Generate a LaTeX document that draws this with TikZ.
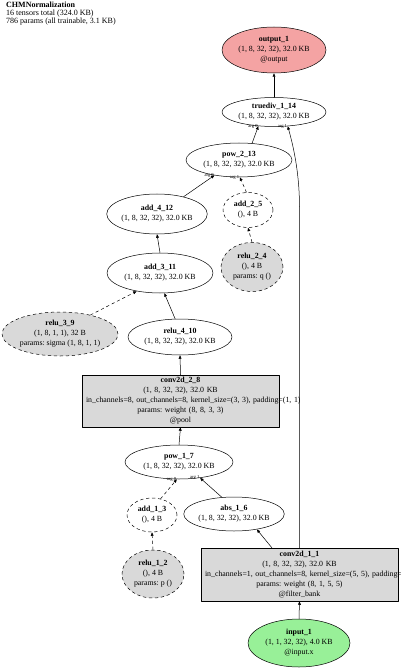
\documentclass[tikz,border=0pt]{standalone}
\usepackage{fontspec}
\setmainfont{Liberation Serif}
\usetikzlibrary{arrows.meta, shapes.geometric, calc}

\definecolor{outfill}{HTML}{F4A3A3}
\definecolor{infill}{HTML}{98F098}
\definecolor{parfill}{HTML}{D9D9D9}
\frenchspacing

\begin{document}
\begin{tikzpicture}[x=1pt,y=-1pt,line cap=round,line join=round,
  every node/.style={font=\fontsize{7.85}{10}\selectfont},
  tensor/.style={ellipse,draw,line width=0.5pt,inner sep=0pt,align=center},
  param/.style={tensor,dashed,fill=parfill},
  layer/.style={rectangle,draw,line width=0.5pt,fill=parfill,inner sep=0pt,
    text width=#1,align=center},
  edge/.style={line width=0.5pt,->},
  argl/.style={font=\fontsize{4.6}{5}\selectfont,inner sep=0.5pt},
  >={Triangle[length=3.5pt,width=2.8pt]}]
  \useasboundingbox (0,0) rectangle (400,668);
  % ---- title -------------------------------------------------------------
  \node[anchor=north west,align=left,inner sep=0pt,
    font=\fontsize{8}{7.7}\selectfont] (title) at (6,2.2)
    {\textbf{CHMNormalization}\\16 tensors total (324.0 KB)\\786 params (all trainable, 3.1 KB)};
  % ---- output side ---------------------------------------------------------
  \node[tensor,fill=outfill,minimum width=104,minimum height=46] (out1) at (274,50)
    {\textbf{output\_1}\\(1, 8, 32, 32), 32.0 KB\\@output};
  \node[tensor,minimum width=104,minimum height=29] (tdiv) at (274,112)
    {\textbf{truediv\_1\_14}\\(1, 8, 32, 32), 32.0 KB};
  \node[tensor,minimum width=106,minimum height=34] (pow213) at (239,160)
    {\textbf{pow\_2\_13}\\(1, 8, 32, 32), 32.0 KB};
  \node[tensor,minimum width=100,minimum height=40] (add412) at (157,214)
    {\textbf{add\_4\_12}\\(1, 8, 32, 32), 32.0 KB};
  \node[tensor,dashed,minimum width=50,minimum height=35] (add25) at (248,210)
    {\textbf{add\_2\_5}\\(), 4 B};
  \node[param,minimum width=62,minimum height=49] (relu24) at (252,267)
    {\textbf{relu\_2\_4}\\(), 4 B\\params: q ()};
  \node[tensor,minimum width=106,minimum height=40] (add311) at (160,273)
    {\textbf{add\_3\_11}\\(1, 8, 32, 32), 32.0 KB};
  \node[param,minimum width=116,minimum height=44] (relu39) at (60,334)
    {\textbf{relu\_3\_9}\\(1, 8, 1, 1), 32 B\\params: sigma (1, 8, 1, 1)};
  \node[tensor,minimum width=104,minimum height=36] (relu410) at (180,337)
    {\textbf{relu\_4\_10}\\(1, 8, 32, 32), 32.0 KB};
  % ---- layers --------------------------------------------------------------
  \node[layer=189pt,minimum width=197,minimum height=52] (conv28) at (180.5,401)
    {\textbf{conv2d\_2\_8}\\(1, 8, 32, 32), 32.0 KB\\\mbox{in\_channels=8, out\_channels=8, kernel\_size=(3, 3), padding=(1, 1)}\\params: weight (8, 8, 3, 3)\\@pool};
  \node[tensor,minimum width=108,minimum height=34] (pow17) at (179,462)
    {\textbf{pow\_1\_7}\\(1, 8, 32, 32), 32.0 KB};
  \node[tensor,dashed,minimum width=50,minimum height=34] (add13) at (152,515)
    {\textbf{add\_1\_3}\\(), 4 B};
  \node[tensor,minimum width=96,minimum height=34] (abs16) at (234,514)
    {\textbf{abs\_1\_6}\\(1, 8, 32, 32), 32.0 KB};
  \node[param,minimum width=62,minimum height=48] (relu12) at (153,574)
    {\textbf{relu\_1\_2}\\(), 4 B\\params: p ()};
  \node[layer=189pt,minimum width=197,minimum height=53] (conv11) at (299.5,574.5)
    {\textbf{conv2d\_1\_1}\\(1, 8, 32, 32), 32.0 KB\\\mbox{in\_channels=1, out\_channels=8, kernel\_size=(5, 5), padding=(2, 2)}\\params: weight (8, 1, 5, 5)\\@filter\_bank};
  \node[tensor,fill=infill,minimum width=102,minimum height=48] (in1) at (299,643)
    {\textbf{input\_1}\\(1, 1, 32, 32), 4.0 KB\\@input.x};
  % ---- connectors ------------------------------------------------------------
  \draw[edge] (in1.north) -- (conv11.south);
  \draw[edge] ($(conv11.north west)!0.36!(conv11.north east)$) -- (abs16.-34);
  \draw[edge] (conv11.north) -- ++(0,-340) .. controls ++(0,-36) and (293,145) .. (tdiv.-46);
  \draw[edge,dashed] (relu12.north) -- (add13.south);
  \draw[edge,dashed] (add13.62) -- (pow17.-97);
  \draw[edge] (abs16.126) -- (pow17.-37);
  \draw[edge] (pow17.north) -- (conv28.south);
  \draw[edge] (conv28.north) -- (relu410.south);
  \draw[edge] (relu410.105) -- (add311.-78);
  \draw[edge,dashed] (relu39.32) -- (add311.-142);
  \draw[edge] (add311.north) -- (add412.south);
  \draw[edge,dashed] (relu24.north) -- (add25.south);
  \draw[edge,dashed] (add25.95) -- (pow213.-87);
  \draw[edge] (add412.33) -- (pow213.-148);
  \draw[edge] (pow213.52) -- (tdiv.-138);
  \draw[edge] (tdiv.north) -- (out1.south);
  % ---- argument labels -------------------------------------------------------
  \node[argl,anchor=east] (a0p17) at (pow17.-97) {arg 0};
  \node[argl,anchor=east] (a1p17) at (pow17.-37) {arg 1};
  \node[argl,anchor=east] (a0p213) at (pow213.-148) {arg 0};
  \node[argl,anchor=east] (a1p213) at (pow213.-87) {arg 1};
  \node[argl,anchor=east] (a0tdiv) at (tdiv.-138) {arg 0};
  \node[argl,anchor=east] (a1tdiv) at (tdiv.-46) {arg 1};
\end{tikzpicture}
\end{document}
